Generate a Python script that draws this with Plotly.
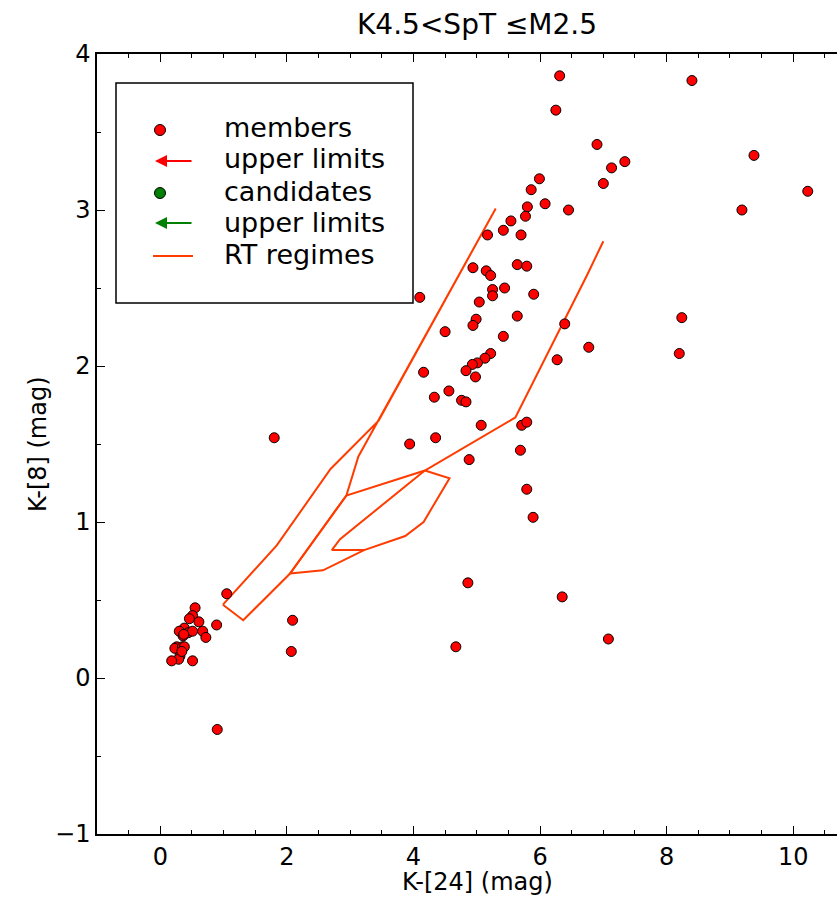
import plotly.graph_objects as go

# ---- data: K-[24] vs K-[8] colours of the members ----
members_k24 = [
    6.31, 8.40, 6.25, 6.90, 9.38, 7.13, 7.34, 5.99, 7.00, 5.86, 10.23, 6.08,
    5.80, 6.45, 9.19, 5.77, 5.54, 5.42, 5.17, 5.70, 4.94, 5.15, 5.22, 5.64,
    5.79, 5.25, 5.25, 5.44, 5.90, 4.10, 5.04, 4.99, 4.94, 5.64, 4.50, 5.42,
    6.39, 8.24, 5.22, 5.13, 5.01, 4.93, 4.83, 4.98, 4.16, 6.77, 6.27, 8.20,
    4.56, 4.33, 4.76, 4.83, 5.07, 5.71, 5.79, 4.35, 3.94, 5.69, 4.88, 5.79,
    5.89, 4.86, 7.08, 1.80, 1.05, 2.09, 2.07, 4.67, 6.35, 0.90,
    0.55, 0.51, 0.46, 0.61, 0.89, 0.67, 0.72, 0.38, 0.30, 0.44, 0.51, 0.36,
    0.37, 0.26, 0.23, 0.35, 0.31, 0.29, 0.18, 0.51, 0.38, 0.34,
]
members_k8 = [
    3.86, 3.83, 3.64, 3.42, 3.35, 3.27, 3.31, 3.20, 3.17, 3.13, 3.12, 3.04,
    3.02, 3.00, 3.00, 2.96, 2.93, 2.87, 2.84, 2.84, 2.63, 2.61, 2.58, 2.65,
    2.64, 2.49, 2.45, 2.50, 2.46, 2.44, 2.41, 2.30, 2.26, 2.32, 2.22, 2.19,
    2.27, 2.31, 2.08, 2.05, 2.02, 2.01, 1.97, 1.93, 1.96, 2.12, 2.04, 2.08,
    1.84, 1.80, 1.78, 1.77, 1.62, 1.62, 1.64, 1.54, 1.50, 1.46, 1.40, 1.21,
    1.03, 0.61, 0.25, 1.54, 0.54, 0.37, 0.17, 0.20, 0.52, -0.33,
    0.45, 0.40, 0.38, 0.36, 0.34, 0.30, 0.26, 0.32, 0.30, 0.29, 0.30, 0.27,
    0.28, 0.20, 0.19, 0.20, 0.14, 0.12, 0.11, 0.11, 0.20, 0.17,
]

# ---- radiative-transfer model regimes (boundary outlines) ----
rt_a_x = [0.99, 1.84, 2.69, 3.45, 5.30, 3.13, 2.94, 2.05, 1.31, 0.99]
rt_a_y = [0.47, 0.85, 1.34, 1.65, 3.01, 1.42, 1.17, 0.67, 0.37, 0.47]
rt_b_x = [7.00, 6.74, 5.61, 4.89, 4.18, 2.94, 2.05, 2.57, 3.22, 3.87, 4.16, 4.57, 4.18]
rt_b_y = [2.80, 2.58, 1.67, 1.50, 1.33, 1.17, 0.67, 0.69, 0.82, 0.91, 1.00, 1.28, 1.33]
rt_c_x = [4.18, 2.84, 2.71, 3.22]
rt_c_y = [1.33, 0.89, 0.82, 0.82]

# ---- legend entries ----
legend_labels = ["members", "upper limits", "candidates", "upper limits", "RT regimes"]

title_text = "K4.5&lt;SpT ≤M2.5"
xlabel = "K-[24] (mag)"
ylabel = "K-[8] (mag)"

RT_COLOR = "#ff3c00"
FONT = "DejaVu Sans"
BIG = 28
LEG = 27
SMALL = 24

W, H = 837, 900
L, R, T, B = 97, 0, 54, 66
PW, PH = W - L - R, H - T - B


def px(x):
    return (x - L) / PW


def py(y):
    return (H - B - y) / PH


fig = go.Figure()

for xs, ys in [(rt_a_x, rt_a_y), (rt_b_x, rt_b_y), (rt_c_x, rt_c_y)]:
    fig.add_trace(go.Scatter(
        x=xs, y=ys, mode="lines",
        line=dict(color=RT_COLOR, width=2),
        hoverinfo="skip", showlegend=False,
    ))

fig.add_trace(go.Scatter(
    x=members_k24, y=members_k8, mode="markers",
    marker=dict(size=10, color="#ff0000", line=dict(color="black", width=1)),
    showlegend=False,
))

# ---- hand-built legend box ----
shapes = [dict(type="rect", xref="paper", yref="paper",
               x0=px(116), x1=px(413), y0=py(303), y1=py(83),
               line=dict(color="black", width=1.5), fillcolor="white",
               layer="above")]
annotations = []

sym_x = 160
rows_y = [130, 161, 193, 223, 256]
text_baseline = [136, 168, 200, 231, 264]


def legend_dot(y, color):
    return dict(type="circle", xref="paper", yref="paper",
                xsizemode="pixel", ysizemode="pixel",
                xanchor=px(sym_x), yanchor=py(y),
                x0=-5.5, x1=5.5, y0=-5.5, y1=5.5,
                fillcolor=color, line=dict(color="black", width=1),
                layer="above")


def legend_arrow(y, color):
    return dict(x=px(155), y=py(y), xref="paper", yref="paper",
                ax=38, ay=0, text="", showarrow=True,
                arrowhead=2, arrowsize=1.2, arrowwidth=2, arrowcolor=color)


shapes.append(legend_dot(rows_y[0], "#ff0000"))
annotations.append(legend_arrow(rows_y[1], "#ff0000"))
shapes.append(legend_dot(rows_y[2], "#008000"))
annotations.append(legend_arrow(rows_y[3], "#008000"))
shapes.append(dict(type="line", xref="paper", yref="paper",
                   x0=px(153), x1=px(193), y0=py(rows_y[4]), y1=py(rows_y[4]),
                   line=dict(color=RT_COLOR, width=2), layer="above"))

for lab, base in zip(legend_labels, text_baseline):
    annotations.append(dict(
        x=px(223), y=py(base - 9), xref="paper", yref="paper",
        xanchor="left", yanchor="middle", showarrow=False, text=lab,
        height=31, valign="middle", borderpad=0,
        font=dict(family=FONT, size=LEG, color="black"),
    ))

# ---- title and axis labels ----
annotations.append(dict(x=px(477), y=py(25), xref="paper", yref="paper",
                        xanchor="center", yanchor="middle", showarrow=False,
                        text=title_text, font=dict(family=FONT, size=BIG, color="black")))
annotations.append(dict(x=px(477), y=py(882), xref="paper", yref="paper",
                        xanchor="center", yanchor="middle", showarrow=False,
                        text=xlabel, font=dict(family=FONT, size=SMALL, color="black")))
annotations.append(dict(x=px(38), y=py(444), xref="paper", yref="paper",
                        xanchor="center", yanchor="middle", showarrow=False,
                        textangle=-90,
                        text=ylabel, font=dict(family=FONT, size=SMALL, color="black")))

axis_common = dict(
    showgrid=False, zeroline=False, showline=True,
    linecolor="black", linewidth=1.5,
    ticks="inside", ticklen=8, tickwidth=1, tickcolor="black",
    tickfont=dict(family=FONT, size=SMALL, color="black"),
)

fig.update_layout(
    width=W, height=H,
    margin=dict(l=L, r=R, t=T, b=B),
    paper_bgcolor="white", plot_bgcolor="white",
    showlegend=False,
    shapes=shapes, annotations=annotations,
    xaxis=dict(range=[-1, (W - 160.2) / 63.3], tickmode="linear", tick0=0, dtick=2,
               mirror="allticks",
               minor=dict(dtick=0.5, tick0=0, ticks="inside", ticklen=4,
                          tickcolor="black", tickwidth=1),
               **axis_common),
    yaxis=dict(range=[-1, 4], tickmode="linear", tick0=0, dtick=1,
               mirror=False,
               minor=dict(dtick=0.5, tick0=0, ticks="inside", ticklen=4,
                          tickcolor="black", tickwidth=1),
               **axis_common),
)

fig.write_html("out.html")
